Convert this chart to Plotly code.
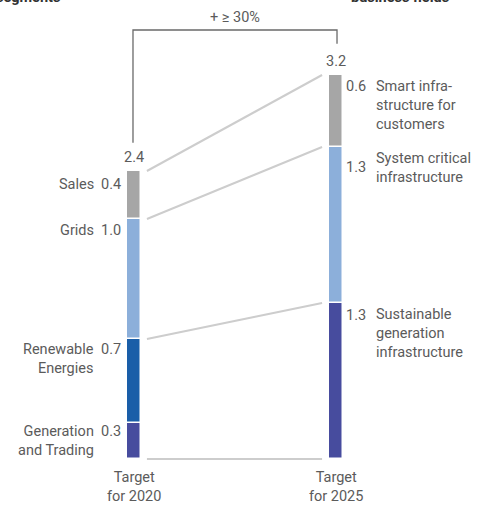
import plotly.graph_objects as go

# Earnings contribution, billions (bottom-to-top stacking order)
left_segments = ["Generation\nand Trading", "Renewable\nEnergies", "Grids", "Sales"]
left_values = [0.3, 0.7, 1.0, 0.4]
left_colors = ["#474c9e", "#1a5ea8", "#8cafda", "#a6a6a6"]

right_segments = ["Sustainable\ngeneration\ninfrastructure",
                  "System critical\ninfrastructure",
                  "Smart infra-\nstructure for\ncustomers"]
right_values = [1.3, 1.3, 0.6]
right_colors = ["#474c9e", "#8cafda", "#a6a6a6"]

bar_labels = ["Target\nfor 2020", "Target\nfor 2025"]
growth_label = "+ ≥ 30%"
left_header = "segments"
right_header = "business fields"

# connector pairs: index into cumulative tops (left, right)
connector_pairs = [(0, 0), (2, 1), (3, 2), (4, 3)]

W, H = 477, 506
TEXT = "#5b5b5b"
FONT = "Roboto"
FS = 14.5


def cumulative(vals):
    out = [0.0]
    for v in vals:
        out.append(round(out[-1] + v, 6))
    return out


left_cum = cumulative(left_values)
right_cum = cumulative(right_values)
left_total = left_cum[-1]
right_total = right_cum[-1]

fig = go.Figure()

bar_w = 0.066
for name, val, base, col in zip(left_segments, left_values, left_cum[:-1], left_colors):
    fig.add_trace(go.Bar(x=[0], y=[val], base=[base], width=bar_w,
                         marker=dict(color=col, line=dict(color="white", width=1.5)),
                         name=name.replace("\n", " "), showlegend=False, hoverinfo="skip"))
for name, val, base, col in zip(right_segments, right_values, right_cum[:-1], right_colors):
    fig.add_trace(go.Bar(x=[1], y=[val], base=[base], width=bar_w,
                         marker=dict(color=col, line=dict(color="white", width=1.5)),
                         name=name.replace("\n", " "), showlegend=False, hoverinfo="skip"))

# grey connectors between matching segment boundaries
x0c, x1c = 0.064, 0.931
for li, ri in connector_pairs:
    fig.add_trace(go.Scatter(x=[x0c, x1c], y=[left_cum[li], right_cum[ri]], mode="lines",
                             line=dict(color="#cdcdcd", width=2), showlegend=False,
                             hoverinfo="skip"))

# growth bracket over both bars
bracket_top = right_total + 0.375
fig.add_trace(go.Scatter(x=[-0.005, -0.005, 1.005, 1.005],
                         y=[left_total + 0.235, bracket_top, bracket_top, right_total + 0.26],
                         mode="lines", line=dict(color="#6a6a6a", width=1.3),
                         showlegend=False, hoverinfo="skip"))

ann = []


def label(text, x, y, xanchor, yanchor, align="left", yshift=0, size=FS, color=TEXT,
          xref="x", yref="y", bold=False):
    t = text.replace("\n", "<br>")
    if bold:
        t = "<b>" + t + "</b>"
    ann.append(dict(text=t, x=x, y=y, xref=xref, yref=yref, xanchor=xanchor,
                    yanchor=yanchor, align=align, yshift=yshift, showarrow=False,
                    font=dict(family=FONT, size=size, color=color)))


label(growth_label, 0.5, bracket_top, "center", "bottom", yshift=2)
label(f"{left_total:.1f}", 0, left_total, "center", "bottom", yshift=3)
label(f"{right_total:.1f}", 1, right_total, "center", "bottom", yshift=3)

# left-side names and values
left_shift = [2, 0, -1, -3]
for name, val, top, ys in zip(left_segments, left_values, left_cum[1:], left_shift):
    label(name, -0.19, top, "right", "top", align="right", yshift=ys)
    label(f"{val:.1f}", -0.0545, top, "right", "top", align="right", yshift=ys)

# right-side values and names
right_val_shift = [-2, -10, -1]
for name, val, top, vs in zip(right_segments, right_values, right_cum[1:], right_val_shift):
    label(f"{val:.1f}", 1.157, top, "right", "top", align="right", yshift=vs)
    label(name, 1.19, top, "left", "top", align="left", yshift=-1)

for i, txt in enumerate(bar_labels):
    label(txt, i, 0, "center", "top", align="center", yshift=-8)

label(left_header, 62 / W, 1 - 8 / H, "right", "bottom", xref="paper", yref="paper",
      color="#333333", bold=True)
label(right_header, 451 / W, 1 - 8 / H, "right", "bottom", xref="paper", yref="paper",
      color="#333333", bold=True)

fig.update_layout(
    width=W, height=H, margin=dict(l=0, r=0, t=0, b=0),
    paper_bgcolor="white", plot_bgcolor="white",
    barmode="overlay", bargap=0,
    annotations=ann,
    xaxis=dict(range=[-134 / 202, (W - 134) / 202], visible=False, fixedrange=True),
    yaxis=dict(range=[-(H - 459) / 120, 459 / 120], visible=False, fixedrange=True),
    font=dict(family=FONT, color=TEXT),
)

fig.write_html("out.html")
